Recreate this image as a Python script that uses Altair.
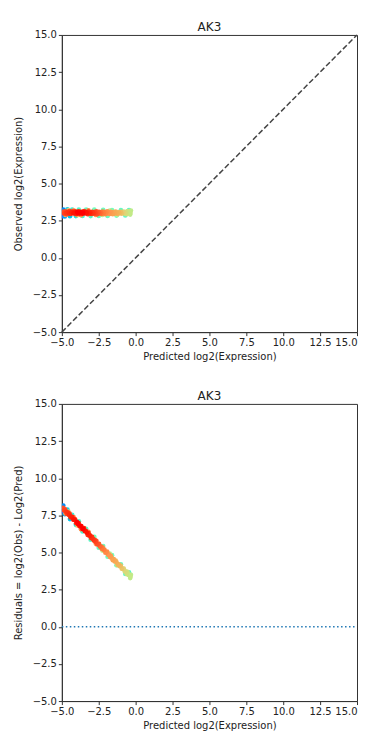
import math
import altair as alt
import pandas as pd

# ---- data (gene AK3) ----
pred = [-4.92, -4.85, -4.78, -4.71, -4.66, -4.60, -4.52, -4.47, -4.41, -4.35, -4.28, -4.22, -4.15, -4.10,
        -4.03, -3.97, -3.91, -3.86, -3.80, -3.74, -3.68, -3.61, -3.55, -3.50, -3.44, -3.38, -3.31, -3.25,
        -3.19, -3.13, -3.07, -3.01, -2.95, -2.89, -2.83, -2.77, -2.71, -2.66, -2.60, -2.54, -2.48, -2.42,
        -2.36, -2.30, -2.24, -2.18, -2.11, -2.05, -1.99, -1.93, -1.87, -1.80, -1.74, -1.68, -1.61, -1.55,
        -1.48, -1.42, -1.35, -1.29, -1.22, -1.15, -1.08, -1.01, -0.94,
        -0.87, -0.80, -0.74, -0.67, -0.61, -0.55, -0.49, -0.43, -0.37, -0.32, -0.35,
        -4.97, -4.90, -4.80, -4.62, -4.45, -4.30, -4.05, -3.85, -3.60, -3.35, -3.05, -2.80, -2.50, -2.20,
        -1.90, -1.60, -1.30, -1.00, -0.70, -0.45,
        -4.75, -4.20, -3.70, -3.20, -2.70, -4.55, -3.95, -2.25, -1.75, -1.25]
obs = [3.09, 2.98, 3.12, 3.02, 2.93, 3.10, 3.01, 3.14, 2.95, 3.06, 3.11, 2.99, 3.04, 3.13,
       2.94, 3.08, 3.00, 3.12, 2.96, 3.06, 3.10, 2.97, 3.04, 3.14, 2.99, 3.08, 3.02, 2.93,
       3.11, 3.00, 3.06, 2.95, 3.10, 3.02, 2.97, 3.08, 3.00, 3.13, 2.94, 3.04, 3.10, 2.98,
       3.06, 2.95, 3.11, 3.00, 3.08, 2.94, 3.04, 3.13, 2.98, 3.06, 2.95, 3.10, 3.02, 2.93,
       3.08, 2.98, 3.11, 3.04, 2.95, 3.06, 3.00, 3.10, 2.97,
       3.04, 3.11, 2.98, 3.06, 2.94, 3.14, 3.00, 3.08, 2.91, 3.18, 3.02,
       2.80, 3.25, 2.78, 3.26, 2.80, 3.24, 2.81, 3.25, 2.82, 3.24, 2.81, 3.25, 2.82, 3.23,
       2.82, 3.22, 2.84, 3.21, 2.85, 3.22,
       2.88, 3.19, 2.87, 3.19, 2.88, 3.20, 2.87, 2.88, 3.18, 2.89]
density = [0.90, 0.93, 0.91, 0.95, 0.92, 0.96, 0.97, 0.93, 0.96, 0.98, 0.97, 0.99, 0.99, 0.96,
           0.97, 1.00, 1.00, 0.98, 0.98, 1.00, 0.99, 1.00, 1.00, 0.97, 0.99, 0.99, 0.99, 0.96,
           0.97, 0.98, 0.97, 0.96, 0.95, 0.95, 0.94, 0.93, 0.92, 0.90, 0.90, 0.89, 0.88, 0.87,
           0.86, 0.85, 0.84, 0.84, 0.83, 0.82, 0.82, 0.81, 0.80, 0.80, 0.79, 0.79, 0.78, 0.78,
           0.77, 0.77, 0.76, 0.76, 0.75, 0.75, 0.74, 0.73, 0.72,
           0.70, 0.68, 0.67, 0.66, 0.65, 0.64, 0.63, 0.63, 0.62, 0.62, 0.63,
           0.12, 0.18, 0.22, 0.30, 0.28, 0.38, 0.35, 0.42, 0.40, 0.45, 0.43, 0.48, 0.45, 0.47,
           0.46, 0.48, 0.47, 0.45, 0.44, 0.42,
           0.78, 0.80, 0.82, 0.83, 0.80, 0.70, 0.72, 0.62, 0.60, 0.58]

ticks = [-5.0, -2.5, 0.0, 2.5, 5.0, 7.5, 10.0, 12.5, 15.0]
diag_x = [-5, 15]
diag_y = [-5, 15]
title_text = "AK3"

df = pd.DataFrame({"pred": pred, "obs": obs, "density": density})
df["resid"] = df["obs"] - df["pred"]
df = df.sort_values("density").reset_index(drop=True)
df["order"] = range(len(df))


def rainbow(t):
    r = min(1.0, abs(2 * t - 0.5))
    g = math.sin(math.pi * t)
    b = math.cos(math.pi * t / 2)
    return "#%02x%02x%02x" % (round(r * 255), round(g * 255), round(b * 255))


stops = [i / 10 for i in range(11)]
color_scale = alt.Scale(domain=stops, range=[rainbow(s) for s in stops])

dom = alt.Scale(domain=[-5, 15], nice=False, zero=False)
FONT = "DejaVu Sans"


def xaxis():
    return alt.Axis(values=ticks, format=".1f", title="Predicted log2(Expression)",
                    labelOverlap=False, labelFlush=False,
                    labelAlign=alt.condition("datum.value >= 15", alt.value("right"), alt.value("center")))


def yaxis(title):
    return alt.Axis(values=ticks, format=".1f", title=title, labelOverlap=False, labelFlush=False)


W, H = 296, 298


def panel(ycol, ytitle, line_df, line_color, dash):
    line = alt.Chart(line_df).mark_line(color=line_color, strokeWidth=1.5, strokeDash=dash).encode(
        x=alt.X("x:Q", scale=dom, axis=xaxis()),
        y=alt.Y("y:Q", scale=dom, axis=yaxis(ytitle)),
    )
    pts = alt.Chart(df).mark_circle(size=22, opacity=1, clip=True).encode(
        x=alt.X("pred:Q", scale=dom, axis=xaxis()),
        y=alt.Y(f"{ycol}:Q", scale=dom, axis=yaxis(ytitle)),
        color=alt.Color("density:Q", scale=color_scale, legend=None),
        order="order:Q",
    )
    return alt.layer(line, pts).properties(width=W, height=H, title=title_text)


top = panel("obs", "Observed log2(Expression)",
            pd.DataFrame({"x": diag_x, "y": diag_y}), "#444444", [5.5, 2.5])
bottom = panel("resid", "Residuals = log2(Obs) - Log2(Pred)",
               pd.DataFrame({"x": diag_x, "y": [0, 0]}), "#1f77b4", [1.5, 2.5])

chart = alt.vconcat(top, bottom, spacing=27).properties(
    padding={"left": 4, "top": 11, "right": 0, "bottom": 0}
).configure_view(
    stroke="#333333", strokeWidth=1
).configure_axis(
    grid=False, domainColor="#333333", tickColor="#333333", tickSize=3.5,
    labelFont=FONT, labelFontSize=10, labelColor="#222222", labelPadding=2,
    titleFont=FONT, titleFontSize=10, titleFontWeight="normal", titleColor="#222222",
).configure_axisY(titlePadding=9).configure_axisX(titlePadding=4).configure_title(
    font=FONT, fontSize=12, fontWeight="normal", color="#222222", offset=-4
)

chart.save("out.html", embed_options={"renderer": "svg", "actions": False})
